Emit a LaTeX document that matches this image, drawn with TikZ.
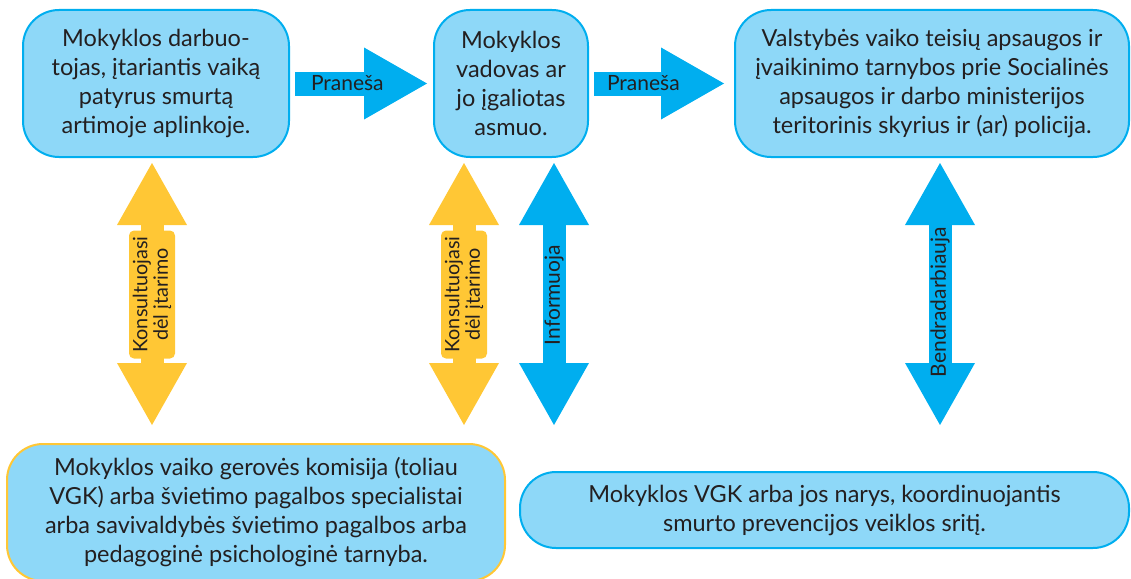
\documentclass[tikz,border=0pt]{standalone}
\usepackage{fontspec}
\setmainfont{Lato}
\usetikzlibrary{arrows.meta}
\definecolor{cblue}{HTML}{00AEEF}
\definecolor{clight}{HTML}{8ED8F8}
\definecolor{cyellow}{HTML}{FFC735}
\definecolor{ctext}{HTML}{231F20}

\begin{document}
\begin{tikzpicture}[x=1pt,y=-1pt,
  box/.style={draw=cblue, fill=clight, line width=2pt, rounded corners=36pt, align=center,
    text=ctext, inner sep=0pt, font=\fontsize{23.5}{29}\selectfont},
  harrow/.style={draw=cblue, line width=24pt, -{Triangle[length=63pt,width=72pt,line width=0pt]}},
  varrow/.style={line width=23pt, {Triangle[length=62pt,width=70pt,line width=0pt]}-{Triangle[length=62pt,width=70pt,line width=0pt]}},
  arrowtext/.style={text=ctext, inner sep=0pt, font=\fontsize{21}{22}\selectfont},
  tagbox/.style={fill=cyellow, rounded corners=5pt, rotate=90, align=center, minimum width=128pt,
    minimum height=46pt, inner sep=0pt, text=ctext, font=\fontsize{19.8}{20.5}\selectfont}]
\useasboundingbox (0,0) rectangle (1131,578);

\node[box, minimum width=266pt, minimum height=147pt] (worker) at (156,83.5)
  {Mokyklos darbuo-\\tojas, įtariantis vaiką\\patyrus smurtą\\artimoje aplinkoje.};
\node[box, minimum width=154pt, minimum height=147pt] (head) at (511,83.5)
  {Mokyklos\\vadovas ar\\jo įgaliotas\\asmuo.};
\node[box, minimum width=394pt, minimum height=147pt] (service) at (932,83.5)
  {Valstybės vaiko teisių apsaugos ir\\įvaikinimo tarnybos prie Socialinės\\apsaugos ir darbo ministerijos\\teritorinis skyrius ir (ar) policija.};

\node[box, draw=cyellow, minimum width=498pt, minimum height=137pt] (vgk) at (256,512.5)
  {Mokyklos vaiko gerovės komisija (toliau\\VGK) arba švietimo pagalbos specialistai\\arba savivaldybės švietimo pagalbos arba\\pedagoginė psichologinė tarnyba.};
\node[box, minimum width=609pt, minimum height=76pt] (member) at (824.5,510)
  {Mokyklos VGK arba jos narys, koordinuojantis\\smurto prevencijos veiklos sritį.};

% horizontal arrows
\draw[harrow, shorten <=5pt, shorten >=6pt] (worker.east) -- (head.west)
  node[arrowtext, pos=0, anchor=west, xshift=9pt] (report1) {Praneša};
\draw[harrow, shorten <=5pt, shorten >=10pt] (head.east) -- (service.west)
  node[arrowtext, pos=0, anchor=west, xshift=6pt] (report2) {Praneša};

% vertical arrows
\coordinate (k1) at (152,0);
\coordinate (k2) at (464,0);
\coordinate (inf) at (554,0);
\coordinate (coop) at (940,0);

\draw[varrow, draw=cyellow, shorten <=5pt, shorten >=18pt] (worker.south -| k1) -- (vgk.north -| k1)
  node[tagbox, pos=0.479] (consult1) {Konsultuojasi\\dėl įtarimo};
\draw[varrow, draw=cyellow, shorten <=5pt, shorten >=18pt] (head.south -| k2) -- (vgk.north -| k2)
  node[tagbox, pos=0.479] (consult2) {Konsultuojasi\\dėl įtarimo};
\draw[varrow, draw=cblue, shorten <=5pt, shorten >=46pt] (head.south -| inf) -- (member.north -| inf)
  node[arrowtext, rotate=90, pos=0.438] (inform) {Informuoja};
\draw[varrow, draw=cblue, shorten <=5pt, shorten >=46pt] (service.south -| coop) -- (member.north -| coop)
  node[arrowtext, rotate=90, pos=0.46] (cooperate) {Bendradarbiauja};
\end{tikzpicture}
\end{document}
